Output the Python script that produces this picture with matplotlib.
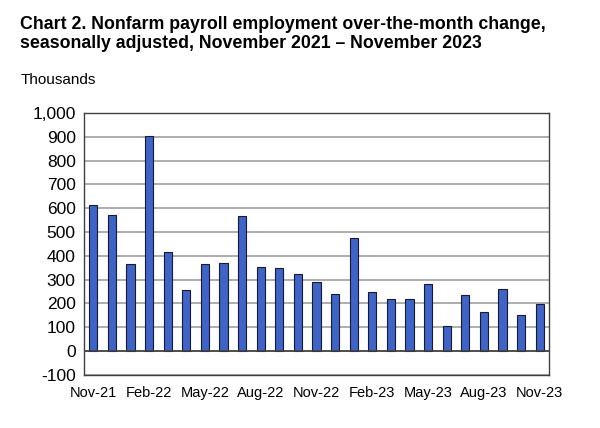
import numpy as np
import matplotlib
matplotlib.use("Agg")
import matplotlib.pyplot as plt

plt.rcParams['font.family'] = ['Liberation Sans', 'DejaVu Sans']

# monthly change, thousands, Nov 2021 .. Nov 2023
months = ['Nov-21', 'Dec-21', 'Jan-22', 'Feb-22', 'Mar-22', 'Apr-22', 'May-22',
          'Jun-22', 'Jul-22', 'Aug-22', 'Sep-22', 'Oct-22', 'Nov-22', 'Dec-22',
          'Jan-23', 'Feb-23', 'Mar-23', 'Apr-23', 'May-23', 'Jun-23', 'Jul-23',
          'Aug-23', 'Sep-23', 'Oct-23', 'Nov-23']
change = [614, 570, 365, 905, 415, 255, 365, 371, 568, 353, 350, 325, 290,
          239, 473, 248, 218, 217, 281, 105, 236, 165, 262, 150, 199]
y_ticks = list(range(-100, 1001, 100))

fig = plt.figure(figsize=(6, 4.28), dpi=100)
ax = fig.add_axes([0.14, 0.124, 0.775, 0.612])

x = np.arange(len(months))
ax.bar(x, change, width=0.45, color='#3F64C8', edgecolor='#1a1a2e', linewidth=0.8, zorder=3)

ax.set_xlim(-0.5, len(months) - 0.5)
ax.set_ylim(-100, 1000)
ax.set_yticks(y_ticks)
ax.set_yticklabels([f'{v:,}' for v in y_ticks], fontsize=12.5)
ax.set_xticks(x[::3])
ax.set_xticklabels(months[::3], fontsize=10.5)
ax.tick_params(length=0, pad=6)
ax.tick_params(axis='x', pad=8)

ax.grid(axis='y', color='#a0a0a0', linewidth=1.2, zorder=0)
ax.axhline(0, color='#404040', linewidth=1.2, zorder=4)
for s in ax.spines.values():
    s.set_color('#404040')
    s.set_linewidth(1.0)

fig.text(0.033, 0.962, 'Chart 2. Nonfarm payroll employment over-the-month change,\n'
         'seasonally adjusted, November 2021 \u2013 November 2023',
         fontsize=12.8, fontweight='bold', va='top', ha='left', linespacing=1.15)
fig.text(0.035, 0.813, 'Thousands', fontsize=11, va='center', ha='left')

fig.savefig('out.png', dpi=100)
